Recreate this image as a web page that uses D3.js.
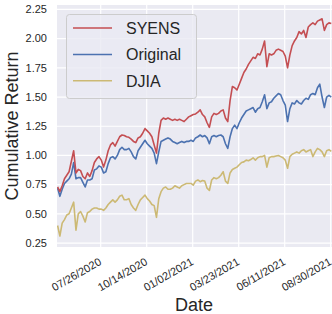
<!DOCTYPE html>
<html>
<head>
<meta charset="utf-8">
<script src="https://d3js.org/d3.v7.min.js"></script>
<style>
  body { margin: 0; background: #fff; }
  text { font-family: "Liberation Sans", Arial, sans-serif; fill: #262626; }
</style>
</head>
<body>
<svg id="chart" width="332" height="314"></svg>
<script>
// sampled dates (every 4 days)
var dates = [
  "2020-05-12","2020-05-16","2020-05-20","2020-05-24","2020-05-28","2020-06-01","2020-06-05","2020-06-09","2020-06-13","2020-06-17",
  "2020-06-21","2020-06-25","2020-06-29","2020-07-03","2020-07-07","2020-07-11","2020-07-15","2020-07-19","2020-07-23","2020-07-27",
  "2020-07-31","2020-08-04","2020-08-08","2020-08-12","2020-08-16","2020-08-20","2020-08-24","2020-08-28","2020-09-01","2020-09-05",
  "2020-09-09","2020-09-13","2020-09-17","2020-09-21","2020-09-25","2020-09-29","2020-10-03","2020-10-07","2020-10-11","2020-10-15",
  "2020-10-19","2020-10-23","2020-10-27","2020-10-31","2020-11-04","2020-11-08","2020-11-12","2020-11-16","2020-11-20","2020-11-24",
  "2020-11-28","2020-12-02","2020-12-06","2020-12-10","2020-12-14","2020-12-18","2020-12-22","2020-12-26","2020-12-30","2021-01-03",
  "2021-01-07","2021-01-11","2021-01-15","2021-01-19","2021-01-23","2021-01-27","2021-01-31","2021-02-04","2021-02-08","2021-02-12",
  "2021-02-16","2021-02-20","2021-02-24","2021-02-28","2021-03-04","2021-03-08","2021-03-12","2021-03-16","2021-03-20","2021-03-24",
  "2021-03-28","2021-04-01","2021-04-05","2021-04-09","2021-04-13","2021-04-17","2021-04-21","2021-04-25","2021-04-29","2021-05-03",
  "2021-05-07","2021-05-11","2021-05-15","2021-05-19","2021-05-23","2021-05-27","2021-05-31","2021-06-04","2021-06-08","2021-06-12",
  "2021-06-16","2021-06-20","2021-06-24","2021-06-28","2021-07-02","2021-07-06","2021-07-10","2021-07-14","2021-07-18","2021-07-22",
  "2021-07-26","2021-07-30","2021-08-03","2021-08-07","2021-08-11","2021-08-15","2021-08-19","2021-08-23","2021-08-27","2021-08-31"
];

var syens = [
  0.73,0.69,0.74,0.80,0.83,0.86,0.95,1.04,0.85,0.88,
  0.87,0.82,0.80,0.85,0.82,0.87,0.94,0.97,0.99,0.96,
  0.90,0.96,1.04,1.09,1.11,1.08,1.12,1.16,1.175,1.17,
  1.16,1.155,1.14,1.12,1.11,1.15,1.16,1.19,1.23,1.21,
  1.19,1.16,1.09,1.02,1.19,1.30,1.32,1.31,1.32,1.31,
  1.30,1.31,1.30,1.31,1.30,1.29,1.31,1.33,1.34,1.35,
  1.355,1.37,1.39,1.35,1.33,1.28,1.24,1.33,1.36,1.35,
  1.36,1.38,1.39,1.32,1.29,1.47,1.59,1.58,1.56,1.61,
  1.66,1.71,1.74,1.78,1.81,1.84,1.83,1.87,1.86,1.91,
  1.98,1.76,1.87,1.86,1.87,1.90,1.91,1.90,1.89,1.85,
  1.75,1.86,1.94,1.98,2.01,2.06,2.04,2.07,2.01,2.10,
  2.12,2.135,2.12,2.15,2.16,2.17,2.07,2.12,2.135,2.13
];

var original = [
  0.72,0.65,0.71,0.76,0.78,0.80,0.84,0.94,0.80,0.81,
  0.81,0.77,0.73,0.79,0.79,0.80,0.875,0.885,0.91,0.90,
  0.85,0.86,0.93,0.98,0.99,0.97,1.00,1.05,1.07,1.05,
  1.05,1.06,1.03,0.99,0.97,1.04,1.07,1.10,1.13,1.10,
  1.08,1.06,1.02,0.93,1.03,1.12,1.13,1.14,1.15,1.14,
  1.12,1.11,1.10,1.11,1.12,1.11,1.12,1.12,1.13,1.12,
  1.15,1.16,1.175,1.16,1.17,1.15,1.10,1.16,1.17,1.16,
  1.17,1.175,1.16,1.10,1.06,1.16,1.23,1.26,1.23,1.28,
  1.32,1.35,1.38,1.39,1.40,1.41,1.37,1.40,1.41,1.46,
  1.52,1.40,1.45,1.46,1.49,1.51,1.53,1.52,1.47,1.43,
  1.29,1.40,1.45,1.44,1.47,1.45,1.44,1.47,1.49,1.48,
  1.52,1.53,1.52,1.58,1.61,1.50,1.41,1.50,1.515,1.50
];

var djia = [
  0.40,0.31,0.42,0.45,0.49,0.50,0.55,0.60,0.36,0.50,
  0.52,0.48,0.43,0.51,0.52,0.54,0.55,0.55,0.54,0.54,
  0.53,0.55,0.58,0.60,0.62,0.60,0.62,0.65,0.66,0.62,
  0.62,0.63,0.58,0.55,0.53,0.58,0.62,0.64,0.66,0.63,
  0.61,0.58,0.57,0.47,0.63,0.69,0.72,0.73,0.71,0.71,
  0.72,0.74,0.73,0.72,0.74,0.75,0.76,0.76,0.76,0.745,
  0.78,0.79,0.775,0.785,0.78,0.72,0.70,0.79,0.81,0.80,
  0.81,0.83,0.86,0.78,0.76,0.85,0.88,0.89,0.90,0.92,
  0.94,0.945,0.96,0.955,0.965,0.98,0.96,0.98,0.99,0.99,
  1.00,0.90,0.98,0.99,0.99,0.995,1.00,0.99,0.98,0.96,
  0.89,0.99,1.01,1.02,1.03,1.02,1.04,1.05,1.03,1.04,
  1.05,0.99,1.03,1.06,1.05,1.03,0.99,1.04,1.05,1.035
];

var seriesNames = ["SYENS", "Original", "DJIA"];
var seriesColors = ["#C44E52", "#4C72B0", "#CCB974"];
var yTicks = [0.25, 0.50, 0.75, 1.00, 1.25, 1.50, 1.75, 2.00, 2.25];
var xTickDates = ["2020-07-26", "2020-10-14", "2021-01-02", "2021-03-23", "2021-06-11", "2021-08-30"];

var parse = d3.timeParse("%Y-%m-%d");
var fmt = d3.timeFormat("%m/%d/%Y");

var plotL = 57, plotR = 333, plotT = 5, plotB = 247;

var svg = d3.select("#chart");

var x = d3.scaleTime()
  .domain([parse("2020-05-11"), parse("2021-09-03")])
  .range([plotL, plotR]);
var y = d3.scaleLinear()
  .domain([0.216, 2.288])
  .range([plotB, plotT]);

// background
svg.append("rect")
  .attr("x", plotL).attr("y", plotT)
  .attr("width", plotR - plotL).attr("height", plotB - plotT)
  .attr("fill", "#EAEAF2");

// grid
var xt = xTickDates.map(parse);
svg.append("g").selectAll("line").data(xt).enter().append("line")
  .attr("x1", function(d){ return x(d); }).attr("x2", function(d){ return x(d); })
  .attr("y1", plotT).attr("y2", plotB)
  .attr("stroke", "#fff").attr("stroke-width", 1.2);
svg.append("g").selectAll("line").data(yTicks).enter().append("line")
  .attr("x1", plotL).attr("x2", plotR)
  .attr("y1", function(d){ return y(d); }).attr("y2", function(d){ return y(d); })
  .attr("stroke", "#fff").attr("stroke-width", 1.2);

// y tick labels
svg.append("g").selectAll("text").data(yTicks).enter().append("text")
  .attr("x", plotL - 10).attr("y", function(d){ return y(d); })
  .attr("dy", "0.35em")
  .attr("text-anchor", "end")
  .style("font-size", "11px")
  .text(function(d){ return d.toFixed(2); });

// x tick labels
svg.append("g").selectAll("text").data(xt).enter().append("text")
  .attr("transform", function(d){ return "translate(" + (x(d) + 1.5) + ",264) rotate(-30)"; })
  .attr("text-anchor", "end")
  .style("font-size", "11px")
  .text(function(d){ return fmt(d); });

// lines
var allSeries = [syens, original, djia];
var line = d3.line()
  .x(function(d, i){ return x(parse(dates[i])); })
  .y(function(d){ return y(d); });

var clip = svg.append("clipPath").attr("id", "clip");
clip.append("rect").attr("x", plotL).attr("y", plotT).attr("width", plotR - plotL).attr("height", plotB - plotT);

for (var s = allSeries.length - 1; s >= 0; s--) {
  svg.append("path")
    .datum(allSeries[s])
    .attr("clip-path", "url(#clip)")
    .attr("fill", "none")
    .attr("stroke", seriesColors[s])
    .attr("stroke-width", 1.6)
    .attr("stroke-linejoin", "round")
    .attr("d", line);
}

// axis titles
svg.append("text")
  .attr("transform", "translate(18,126) rotate(-90)")
  .attr("text-anchor", "middle")
  .style("font-size", "18px")
  .text("Cumulative Return");
svg.append("text")
  .attr("x", 194).attr("y", 311)
  .attr("text-anchor", "middle")
  .style("font-size", "18px")
  .text("Date");

// legend
var lg = svg.append("g");
lg.append("rect")
  .attr("x", 66.5).attr("y", 14.5)
  .attr("width", 130).attr("height", 84)
  .attr("rx", 3)
  .attr("fill", "#EAEAF2").attr("fill-opacity", 0.8)
  .attr("stroke", "#cccccc").attr("stroke-width", 1);
var rows = lg.selectAll("g.item").data(seriesNames).enter().append("g")
  .attr("class", "item")
  .attr("transform", function(d, i){ return "translate(0," + (28 + i * 26.4) + ")"; });
rows.append("line")
  .attr("x1", 73).attr("x2", 112)
  .attr("stroke", function(d, i){ return seriesColors[i]; })
  .attr("stroke-width", 1.5);
rows.append("text")
  .attr("x", 126).attr("dy", "0.36em")
  .style("font-size", "16px")
  .text(function(d){ return d; });
</script>
</body>
</html>
